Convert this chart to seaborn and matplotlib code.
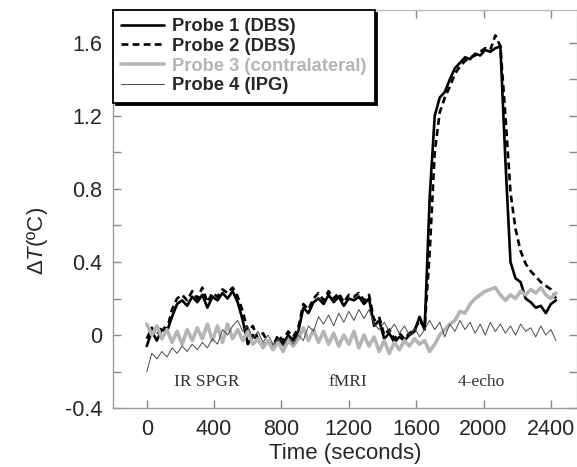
import numpy as np
import pandas as pd
import matplotlib.pyplot as plt
import seaborn as sns

# --- Temperature traces (30 s sampling) ---
time_s = list(range(0, 2431, 30))

probe1_dbs = [
    -0.06, 0.02, -0.03, 0.03, 0.02, 0.10, 0.17, 0.19, 0.16, 0.21,
    0.18, 0.22, 0.15, 0.21, 0.19, 0.23, 0.20, 0.24, 0.18, 0.08,
    -0.05, 0.00, -0.03, -0.06, -0.03, -0.08, -0.02, -0.05, 0.00, -0.03,
    0.02, 0.15, 0.12, 0.18, 0.20, 0.17, 0.22, 0.18, 0.21, 0.16,
    0.20, 0.19, 0.21, 0.17, 0.20, 0.05, 0.08, -0.02, 0.01, -0.04,
    -0.01, -0.03, 0.00, 0.02, 0.10, 0.03, 0.75, 1.20, 1.30, 1.33,
    1.40, 1.46, 1.49, 1.52, 1.51, 1.54, 1.53, 1.56, 1.55, 1.57,
    1.58, 0.95, 0.40, 0.31, 0.29, 0.20, 0.18, 0.15, 0.16, 0.12,
    0.17, 0.19,
]
probe2_dbs = [
    -0.02, 0.04, 0.00, 0.05, 0.03, 0.14, 0.20, 0.22, 0.19, 0.24,
    0.20, 0.26, 0.18, 0.23, 0.21, 0.25, 0.23, 0.26, 0.21, 0.13,
    0.02, 0.05, -0.02, 0.01, -0.04, -0.06, 0.00, -0.03, 0.02, -0.01,
    0.04, 0.17, 0.14, 0.20, 0.23, 0.19, 0.24, 0.20, 0.23, 0.18,
    0.22, 0.21, 0.23, 0.19, 0.22, 0.08, 0.10, 0.00, 0.03, -0.02,
    0.01, -0.02, 0.01, 0.03, 0.08, 0.04, 0.45, 1.00, 1.22, 1.30,
    1.36, 1.43, 1.47, 1.50, 1.52, 1.53, 1.55, 1.57, 1.56, 1.64,
    1.58, 1.20, 0.78, 0.58, 0.46, 0.39, 0.35, 0.32, 0.29, 0.27,
    0.25, 0.20,
]
probe3_contra = [
    0.06, 0.00, 0.05, -0.02, 0.03, -0.04, 0.02, -0.05, 0.03, -0.03,
    0.04, -0.02, 0.06, -0.03, 0.05, -0.04, 0.06, -0.02, 0.03, -0.03,
    0.02, -0.05, -0.02, -0.07, -0.03, -0.08, -0.04, -0.09, -0.03, -0.06,
    -0.02, 0.04, -0.03, 0.03, -0.04, 0.02, -0.05, 0.01, -0.06, 0.00,
    -0.05, 0.02, -0.07, 0.00, -0.06, -0.01, -0.09, -0.03, -0.10, -0.04,
    -0.08, -0.03, -0.06, -0.02, -0.05, -0.03, -0.09, -0.05, 0.00, 0.03,
    0.06, 0.08, 0.13, 0.12, 0.17, 0.20, 0.22, 0.24, 0.25, 0.26,
    0.22, 0.19, 0.22, 0.20, 0.24, 0.22, 0.25, 0.23, 0.26, 0.22,
    0.20, 0.23,
]
probe4_ipg = [
    -0.20, -0.10, -0.13, -0.09, -0.12, -0.07, -0.10, -0.06, -0.09, -0.05,
    -0.08, -0.04, -0.07, -0.02, -0.05, 0.03, 0.00, 0.05, 0.08, 0.02,
    0.05, -0.02, 0.02, -0.04, 0.00, -0.05, -0.02, -0.06, -0.01, -0.05,
    0.00, -0.03, 0.05, 0.02, 0.10, 0.06, 0.11, 0.05, 0.12, 0.07,
    0.13, 0.08, 0.14, 0.09, 0.14, 0.06, 0.03, 0.07, 0.02, 0.06,
    0.01, 0.05, 0.00, 0.04, -0.01, 0.03, 0.08, 0.03, 0.07, -0.01,
    0.06, 0.02, 0.08, 0.03, 0.07, 0.01, 0.06, 0.00, 0.07, 0.02,
    0.06, 0.01, 0.05, 0.00, 0.06, 0.02, 0.04, -0.01, 0.05, 0.00,
    0.03, -0.03,
]

sequence_labels = ["IR SPGR", "fMRI", "4-echo"]
sequence_centers = [356, 1193, 1988]

x_ticks = [0, 400, 800, 1200, 1600, 2000, 2400]
y_ticks = [-0.4, 0, 0.4, 0.8, 1.2, 1.6]
y_minor = [-0.2, 0.2, 0.6, 1.0, 1.4]
y_ticklabels = ["-0.4", "0", "0.4", "0.8", "1.2", "1.6"]

sns.set_style("ticks")
plt.rcParams["font.family"] = ["Liberation Sans", "DejaVu Sans"]
plt.rcParams["mathtext.fontset"] = "custom"
plt.rcParams["mathtext.it"] = "Liberation Sans:italic"
plt.rcParams["mathtext.rm"] = "Liberation Sans"

fig = plt.figure(figsize=(5.77, 4.67), dpi=100)
ax = fig.add_axes([0.196, 0.126, 0.804, 0.853])

series = [
    ("Probe 1 (DBS)", probe1_dbs, dict(color="black", lw=1.9, ls="-")),
    ("Probe 2 (DBS)", probe2_dbs, dict(color="black", lw=1.9, ls=(0, (2.6, 1.6)))),
    ("Probe 3 (contralateral)", probe3_contra, dict(color="#b5b5b5", lw=2.6, ls="-")),
    ("Probe 4 (IPG)", probe4_ipg, dict(color="#4a4a4a", lw=0.7, ls="-")),
]
for name, vals, style in series:
    sns.lineplot(x=time_s, y=vals, ax=ax, label=name, color=style["color"],
                 linewidth=style["lw"], linestyle=style["ls"])

for lab, xc in zip(sequence_labels, sequence_centers):
    ax.text(xc, -0.258, lab, ha="center", va="center", fontsize=12.5,
            family="Liberation Serif", color="#333333")

ax.set_xlim(-200, 2555)
ax.set_ylim(-0.4, 1.78)
ax.set_xticks(x_ticks)
ax.set_yticks(y_ticks)
ax.set_yticks(y_minor, minor=True)
ax.set_yticklabels(y_ticklabels)
ax.tick_params(which="both", direction="in", length=6, width=1, color="#888888",
               labelsize=15.5, top=True, right=True, pad=8)
for side in ["left", "bottom", "top", "right"]:
    ax.spines[side].set_color("#999999")
    ax.spines[side].set_linewidth(1.0)
ax.spines["top"].set_color("#bbbbbb")
ax.spines["right"].set_color("#cccccc")

ax.set_xlabel("Time (seconds)", fontsize=16, labelpad=2)
ax.set_ylabel(r"$\Delta T$(ºC)", fontsize=16)
ax.yaxis.set_label_coords(-0.135, 0.42)

leg = ax.legend(loc="upper left", bbox_to_anchor=(0.0, 1.0), borderaxespad=0,
                frameon=True, fancybox=False, shadow={"color": "black", "alpha": 1},
                prop={"weight": "bold", "size": 13.2}, handlelength=2.3,
                handletextpad=0.45, labelspacing=0.15, borderpad=0.45)
leg.get_frame().set_edgecolor("black")
leg.get_frame().set_linewidth(1.3)
leg.get_frame().set_alpha(1)
for txt, (name, vals, style) in zip(leg.get_texts(), series):
    if "contralateral" in name:
        txt.set_color("#b5b5b5")

fig.savefig("out.png", dpi=100)
